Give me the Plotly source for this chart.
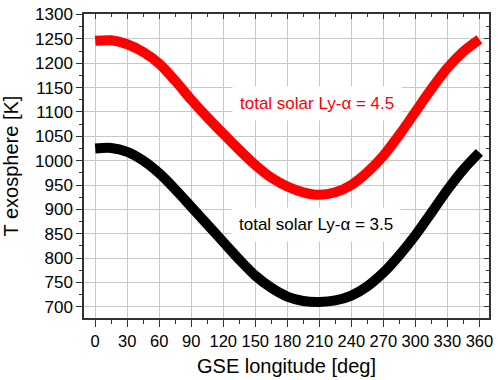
import plotly.graph_objects as go

lon = [0, 15, 30, 45, 60, 75, 90, 105, 120, 135, 150, 165, 180,
       195, 210, 225, 240, 255, 270, 285, 300, 315, 330, 345, 360]
t_lya45 = [1246, 1247, 1239, 1223, 1199, 1164, 1125, 1089, 1055, 1022, 991, 965, 947,
           935, 930, 935, 950, 976, 1010, 1053, 1100, 1147, 1190, 1224, 1249]
t_lya35 = [1025, 1026, 1018, 1000, 974, 941, 905, 869, 833, 797, 764, 739, 721,
           712, 710, 713, 723, 742, 770, 806, 847, 893, 940, 982, 1017]

label_45 = "total solar Ly-α = 4.5"
label_35 = "total solar Ly-α = 3.5"
x_title = "GSE longitude [deg]"
y_title = "T exosphere [K]"

FONT = "Arial, Liberation Sans, sans-serif"
XR = [-10.5, 369]
YR = [677, 1301]

fig = go.Figure()
fig.add_trace(go.Scatter(x=lon, y=t_lya45, mode="lines",
                         line=dict(color="#ff0000", width=10, shape="spline", smoothing=0.8),
                         showlegend=False))
fig.add_trace(go.Scatter(x=lon, y=t_lya35, mode="lines",
                         line=dict(color="#000000", width=10, shape="spline", smoothing=0.8),
                         showlegend=False))

fig.add_annotation(x=208, y=1117, text=label_45, showarrow=False,
                   font=dict(family=FONT, size=17, color="#ff0000"),
                   bgcolor="white", borderpad=7)
fig.add_annotation(x=207, y=869, text=label_35, showarrow=False,
                   font=dict(family=FONT, size=17, color="#000000"),
                   bgcolor="white", borderpad=7)

axis_common = dict(showline=True, linecolor="#333333", linewidth=1.5,
                   tickcolor="#333333", tickwidth=1.2, zeroline=False)

fig.update_layout(
    width=498, height=380,
    margin=dict(l=78, r=5, t=9, b=62),
    paper_bgcolor="white", plot_bgcolor="white",
    font=dict(family=FONT, color="black"),
    xaxis=dict(range=XR, tick0=0, dtick=30, ticks="outside", ticklen=7,
               showgrid=True, gridcolor="#c8c8c8", gridwidth=1,
               minor=dict(ticks="outside", ticklen=4, dtick=15, tick0=0,
                          tickcolor="#333333", showgrid=False),
               tickfont=dict(size=16.5),
               title=dict(text=x_title, font=dict(size=20), standoff=10),
               **axis_common),
    yaxis=dict(range=YR, tick0=700, dtick=50, ticks="outside", ticklen=6,
               showgrid=True, gridcolor="#c8c8c8", gridwidth=1,
               minor=dict(ticks="outside", ticklen=3, dtick=25, tick0=700,
                          tickcolor="#333333", showgrid=False),
               tickfont=dict(size=17),
               title=dict(text=y_title, font=dict(size=20), standoff=16),
               **axis_common),
    xaxis2=dict(range=XR, overlaying="x", side="top", tick0=0, dtick=30,
                ticks="inside", ticklen=5, showticklabels=False, showgrid=False,
                minor=dict(ticks="inside", ticklen=3, dtick=15, tick0=0,
                           tickcolor="#333333", showgrid=False),
                **axis_common),
    yaxis2=dict(range=YR, overlaying="y", side="right", tick0=700, dtick=50,
                ticks="inside", ticklen=5, showticklabels=False, showgrid=False,
                minor=dict(ticks="inside", ticklen=3, dtick=25, tick0=700,
                           tickcolor="#333333", showgrid=False),
                **axis_common),
)
# invisible trace to activate secondary axes
fig.add_trace(go.Scatter(x=[None], y=[None], xaxis="x2", yaxis="y2",
                         showlegend=False, hoverinfo="skip"))

fig.write_html("out.html", config={"displayModeBar": False},
               post_script="document.body.style.margin='0';document.body.style.padding='0';")
